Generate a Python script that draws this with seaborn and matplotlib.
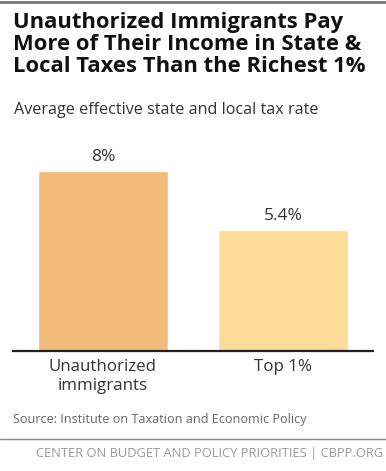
import matplotlib
matplotlib.use("Agg")
import matplotlib.pyplot as plt
import seaborn as sns
import pandas as pd

# -----------------------------
# Data
# -----------------------------
groups = ["Unauthorized\nimmigrants", "Top 1%"]
tax_rates = [8.0, 5.4]
rate_labels = ["8%", "5.4%"]
bar_colors = ["#F1BB7A", "#FDDB98"]

df = pd.DataFrame({"group": groups, "rate": tax_rates})

# -----------------------------
# Figure
# -----------------------------
sns.set_style("white")
plt.rcParams["font.family"] = ["Open Sans", "DejaVu Sans"]

fig = plt.figure(figsize=(3.86, 4.71), dpi=100)
W, H = 386, 471
ax = fig.add_axes([13 / W, 1 - 351 / H, 360 / W, (351 - 140) / H])

sns.barplot(data=df, x="group", y="rate", hue="group", palette=bar_colors,
            width=0.72, legend=False, ax=ax, saturation=1)

ax.set_xlim(-0.5, 1.5)
ax.set_ylim(0, 211 / 22.5)
ax.set_xlabel("")
ax.set_ylabel("")
ax.set_yticks([])
for s in ["left", "right", "top"]:
    ax.spines[s].set_visible(False)
ax.spines["bottom"].set_color("#222222")
ax.spines["bottom"].set_linewidth(1.6)
ax.tick_params(axis="x", length=0, pad=6, labelsize=12.2, labelcolor="#333333")

for i, (v, lab) in enumerate(zip(tax_rates, rate_labels)):
    ax.text(i, v + 0.25, lab, ha="center", va="bottom", fontsize=12.5,
            color="#333333")

# -----------------------------
# Titles and footer
# -----------------------------
fig.add_artist(plt.Line2D([0, 1], [1 - 1.5 / H, 1 - 1.5 / H], color="#777777", lw=2))
fig.text(13 / W, 1 - 12 / H, "Unauthorized Immigrants Pay\nMore of Their Income in State &\nLocal Taxes Than the Richest 1%",
         ha="left", va="top", fontsize=15.8, fontweight="bold", color="#111111",
         linespacing=1.05)
fig.text(14 / W, 1 - 110 / H, "Average effective state and local tax rate",
         ha="left", va="center", fontsize=11.6, color="#333333")
fig.text(13 / W, 1 - 419 / H, "Source: Institute on Taxation and Economic Policy",
         ha="left", va="center", fontsize=9.1, color="#666666")
fig.add_artist(plt.Line2D([0, 1], [1 - 439 / H, 1 - 439 / H], color="#888888", lw=1))
fig.text(383 / W, 1 - 453 / H, "CENTER ON BUDGET AND POLICY PRIORITIES | CBPP.ORG",
         ha="right", va="center", fontsize=9.3, color="#999999")

fig.savefig("out.png", dpi=100)
